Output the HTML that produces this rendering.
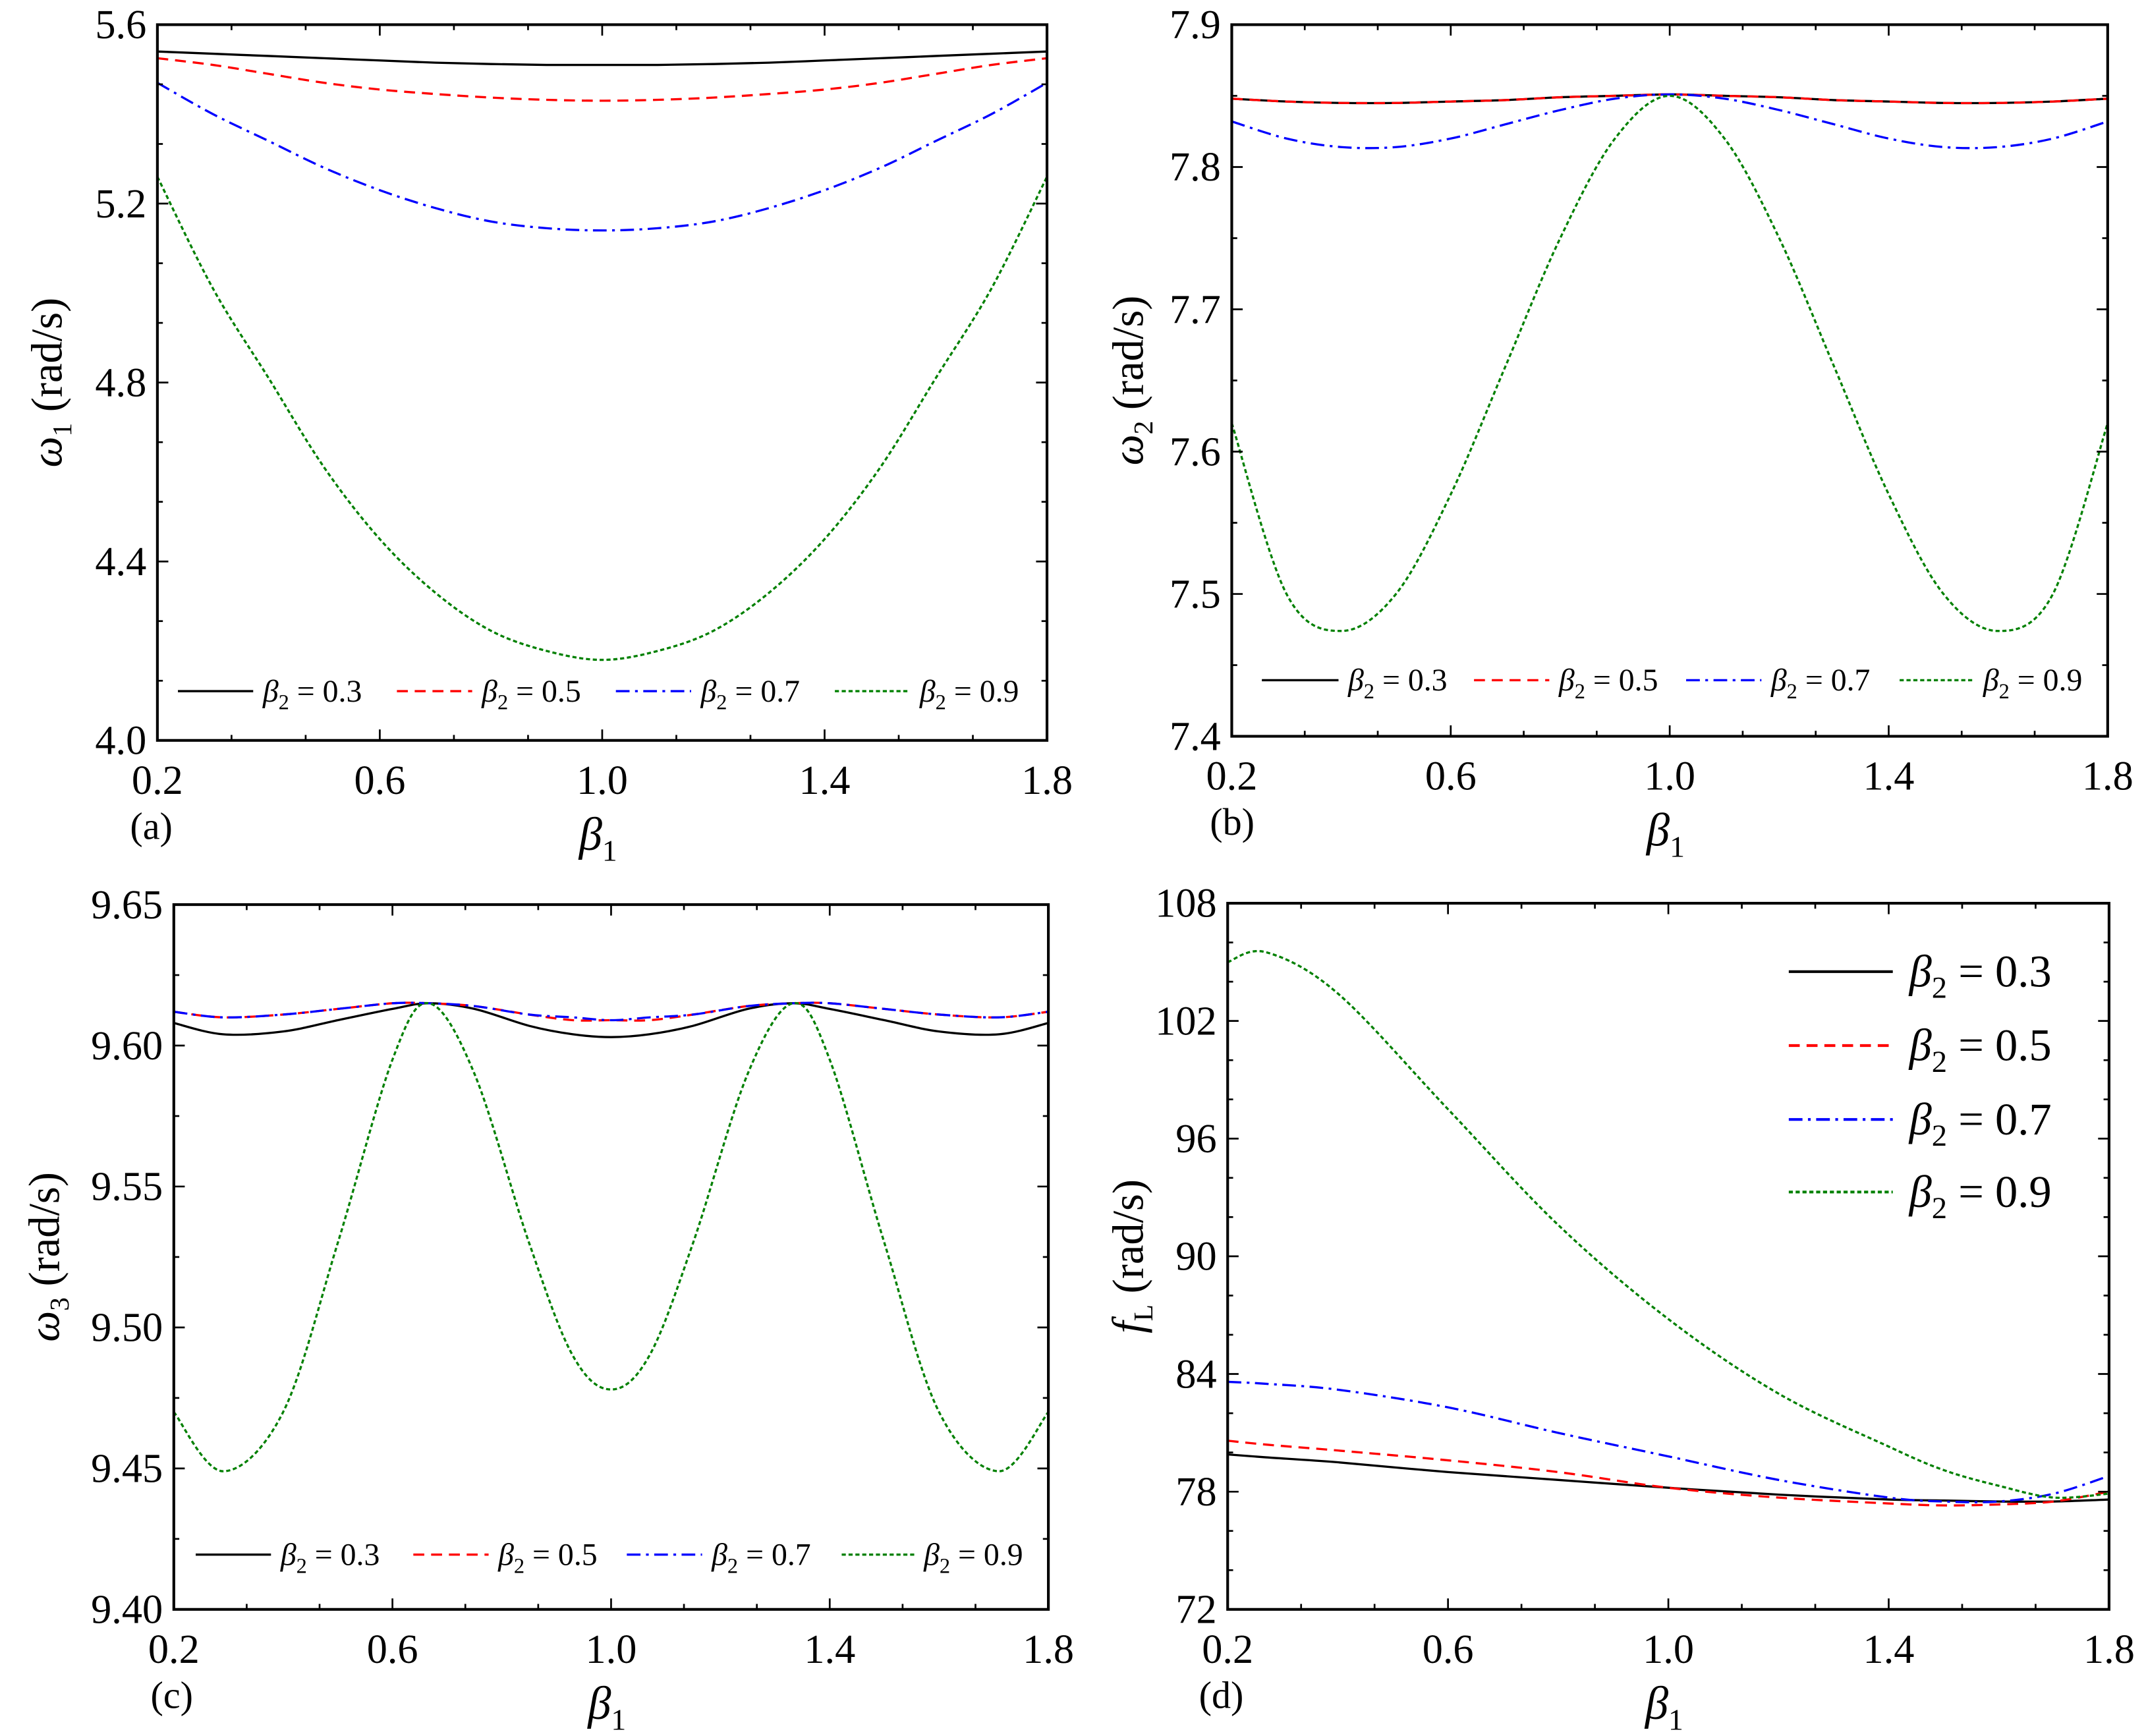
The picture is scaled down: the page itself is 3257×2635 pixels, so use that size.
<!DOCTYPE html>
<html><head><meta charset="utf-8"><style>
html,body{margin:0;padding:0;background:#fff}
svg{display:block}
text{font-family:"Liberation Serif","Times New Roman",serif;fill:#000}
</style></head><body>
<svg id="fig" width="3257" height="2635" viewBox="0 0 1568 1268.5" font-family="Liberation Serif, serif" xmlns="http://www.w3.org/2000/svg"></svg>
<script>
// Panel (a) data
const aX = [0.2,0.3,0.4,0.5,0.6,0.7,0.8,0.9,1.0,1.1,1.2,1.3,1.4,1.5,1.6,1.7,1.8];
const aS03 = [5.54,5.535,5.53,5.525,5.52,5.515,5.512,5.51,5.51,5.51,5.512,5.515,5.52,5.525,5.53,5.535,5.54];
const aS05 = [5.525,5.51,5.49,5.47,5.455,5.445,5.437,5.432,5.43,5.432,5.437,5.445,5.455,5.47,5.49,5.51,5.525];
const aS07 = [5.47,5.40,5.34,5.28,5.23,5.19,5.16,5.145,5.14,5.145,5.16,5.19,5.23,5.28,5.34,5.40,5.47];
const aS09 = [5.26,5.01,4.81,4.61,4.45,4.33,4.245,4.20,4.18,4.20,4.245,4.33,4.45,4.61,4.81,5.01,5.26];
// Panel (b) data
const bX = [0.2,0.3,0.4,0.5,0.6,0.7,0.8,0.9,1.0,1.1,1.2,1.3,1.4,1.5,1.6,1.7,1.8];
const bS03 = [7.848,7.846,7.845,7.845,7.846,7.847,7.849,7.850,7.851,7.850,7.849,7.847,7.846,7.845,7.845,7.846,7.848];
const bS05 = [7.848,7.846,7.845,7.845,7.846,7.847,7.849,7.850,7.851,7.850,7.849,7.847,7.846,7.845,7.845,7.846,7.848];
const bS07 = [7.832,7.820,7.814,7.814,7.820,7.830,7.840,7.848,7.851,7.848,7.840,7.830,7.820,7.814,7.814,7.820,7.832];
const bS09 = [7.62,7.50,7.474,7.50,7.57,7.66,7.75,7.82,7.85,7.82,7.75,7.66,7.57,7.50,7.474,7.50,7.62];
// Panel (c) data
const cX = [0.2,0.29,0.4,0.5,0.6,0.667,0.75,0.85,0.93,1.0,1.07,1.15,1.25,1.333,1.4,1.5,1.6,1.71,1.8];
const cS03 = [9.608,9.604,9.605,9.609,9.613,9.615,9.613,9.607,9.604,9.603,9.604,9.607,9.613,9.615,9.613,9.609,9.605,9.604,9.608];
const cS05 = [9.612,9.610,9.611,9.613,9.615,9.615,9.614,9.611,9.609,9.609,9.609,9.611,9.614,9.615,9.615,9.613,9.611,9.610,9.612];
const cS07 = [9.612,9.610,9.611,9.613,9.615,9.615,9.614,9.611,9.610,9.609,9.610,9.611,9.614,9.615,9.615,9.613,9.611,9.610,9.612];
const cS09 = [9.47,9.449,9.47,9.53,9.595,9.615,9.59,9.53,9.49,9.478,9.49,9.53,9.59,9.615,9.595,9.53,9.47,9.449,9.47];
// Panel (d) data
const dX = [0.2,0.27,0.4,0.6,0.8,1.0,1.2,1.4,1.5,1.6,1.7,1.8];
const dS03 = [79.9,79.75,79.5,79.0,78.6,78.2,77.85,77.6,77.55,77.5,77.5,77.6];
const dS05 = [80.6,80.4,80.1,79.6,79.0,78.2,77.7,77.4,77.3,77.35,77.5,78.0];
const dS07 = [83.6,83.5,83.2,82.3,81.0,79.8,78.6,77.7,77.5,77.5,77.9,78.8];
const dS09 = [105.0,105.5,103.4,97.5,91.6,86.8,83.0,80.3,79.1,78.3,77.7,77.9];

const legendLabels = ["0.3","0.5","0.7","0.9"];
const xTicks = [0.2,0.6,1.0,1.4,1.8];
const xTickLabels = ["0.2","0.6","1.0","1.4","1.8"];

const NS="http://www.w3.org/2000/svg";
const svg=document.getElementById('fig');
function el(tag,attrs,parent){const e=document.createElementNS(NS,tag);for(const k in attrs)e.setAttribute(k,attrs[k]);(parent||svg).appendChild(e);return e;}
const styles=[
 {stroke:"#000",dash:""},
 {stroke:"#ff0000",dash:"8,5"},
 {stroke:"#0000ff",dash:"10,4,2,4"},
 {stroke:"#008000",dash:"3,2"}];

function smoothPath(pts){
  let d="M"+pts[0][0].toFixed(2)+","+pts[0][1].toFixed(2);
  for(let i=0;i<pts.length-1;i++){
    const p0=pts[i-1]||pts[i],p1=pts[i],p2=pts[i+1],p3=pts[i+2]||p2;
    const c1=[p1[0]+(p2[0]-p0[0])/6,p1[1]+(p2[1]-p0[1])/6];
    const c2=[p2[0]-(p3[0]-p1[0])/6,p2[1]-(p3[1]-p1[1])/6];
    d+=" C"+c1[0].toFixed(2)+","+c1[1].toFixed(2)+" "+c2[0].toFixed(2)+","+c2[1].toFixed(2)+" "+p2[0].toFixed(2)+","+p2[1].toFixed(2);
  }
  return d;
}

function panel(cfg){
  const g=el('g',{});
  
  
  const {x0,x1,yTop,yBot,ymin,ymax}=cfg;
  const sx=v=>x0+(v-0.2)/1.6*(x1-x0);
  const sy=v=>yBot-(v-ymin)/(ymax-ymin)*(yBot-yTop);
  const cid='clip'+cfg.id;
  const cp=el('clipPath',{id:cid},g);
  el('rect',{x:x0,y:yTop,width:x1-x0,height:yBot-yTop},cp);
  cfg.series.forEach((s,i)=>{
    const pts=cfg.xs.map((x,j)=>[sx(x),sy(s[j])]);
    const p=el('path',{d:smoothPath(pts),fill:"none",stroke:styles[i].stroke,"stroke-width":1.6,"stroke-dasharray":styles[i].dash,"clip-path":"url(#"+cid+")"},g);
    
    
  });
  const ax=el('g',{stroke:"#000","stroke-width":1.3},g);
  
  
  const xstep=0.4, xminor=3;
  for(let k=0;k<=4*xminor;k++){
    const v=0.2+k*xstep/xminor, X=sx(v), L=(k%xminor===0)?8:4;
    el('line',{x1:X,y1:yBot,x2:X,y2:yBot-L},ax);
    el('line',{x1:X,y1:yTop,x2:X,y2:yTop+L},ax);
  }
  const nMaj=cfg.yTicks.length-1;
  for(let k=0;k<=nMaj*cfg.yMinor;k++){
    const v=ymin+k*(ymax-ymin)/(nMaj*cfg.yMinor), Y=sy(v), L=(k%cfg.yMinor===0)?8:4;
    el('line',{x1:x0,y1:Y,x2:x0+L,y2:Y},ax);
    el('line',{x1:x1,y1:Y,x2:x1-L,y2:Y},ax);
  }
  const box=el('rect',{x:x0,y:yTop,width:x1-x0,height:yBot-yTop,fill:"none",stroke:"#000","stroke-width":2},g);
  
  
  xTicks.forEach((v,i)=>{
    const t=el('text',{x:sx(v),y:yBot+39,"font-size":30,"text-anchor":"middle"},g);
    t.textContent=xTickLabels[i];
    
    
  });
  cfg.yTicks.forEach((v,i)=>{
    const t=el('text',{x:x0-8,y:sy(v)+10,"font-size":30,"text-anchor":"end"},g);
    t.textContent=cfg.yTickLabels[i];
    
    
  });
  const pl=el('text',{x:cfg.letterX,y:yBot+72,"font-size":28},g);
  pl.textContent=cfg.letter;
  
  
  const xt=el('text',{x:(x0+x1)/2-3,y:yBot+80,"font-size":34,"font-style":"italic","text-anchor":"middle"},g);
  xt.innerHTML='β<tspan font-style="normal" font-size="22" dy="8">1</tspan>';
  
  
  const yc=(yTop+yBot)/2, yx=cfg.yTitleX;
  const yt=el('text',{x:yx,y:yc,"font-size":32,"text-anchor":"middle",transform:"rotate(-90 "+yx+" "+yc+")"},g);
  yt.innerHTML=cfg.yTitle;
  
  
  const lg=el('g',{},g);
  
  
  legendLabels.forEach((lab,i)=>{
    const e=cfg.legend[i];
    const ln=el('line',{x1:e[0],y1:e[2],x2:e[1],y2:e[2],stroke:styles[i].stroke,"stroke-width":cfg.legendBig?2:1.6,"stroke-dasharray":styles[i].dash},lg);
    
    
    const fs=cfg.legendBig?33:23;
    const t=el('text',{x:e[1]+(cfg.legendBig?12:7),y:e[2]+fs*0.33,"font-size":fs},lg);
    t.innerHTML='<tspan font-style="italic">β</tspan><tspan font-size="'+(fs*0.68)+'" dy="'+(fs*0.25)+'">2</tspan><tspan dy="'+(-fs*0.25)+'"> = '+lab+'</tspan>';
    
    
  });
}

panel({id:'a',name:'panel-a',x0:115,x1:765,yTop:18,yBot:541,ymin:4.0,ymax:5.6,yMinor:3,
  yTicks:[4.0,4.4,4.8,5.2,5.6],yTickLabels:["4.0","4.4","4.8","5.2","5.6"],
  xs:aX,series:[aS03,aS05,aS07,aS09],letter:"(a)",letterX:95,yTitleX:45,
  yTitle:'<tspan font-style="italic">ω</tspan><tspan font-size="20" dy="7">1</tspan><tspan dy="-7"> (rad/s)</tspan>',
  legend:[[130,185,505],[290,345,505],[450,505,505],[610,665,505]]});
panel({id:'b',name:'panel-b',x0:900,x1:1540,yTop:18,yBot:538,ymin:7.4,ymax:7.9,yMinor:2,
  yTicks:[7.4,7.5,7.6,7.7,7.8,7.9],yTickLabels:["7.4","7.5","7.6","7.7","7.8","7.9"],
  xs:bX,series:[bS03,bS05,bS07,bS09],letter:"(b)",letterX:884,yTitleX:835,
  yTitle:'<tspan font-style="italic">ω</tspan><tspan font-size="20" dy="7">2</tspan><tspan dy="-7"> (rad/s)</tspan>',
  legend:[[922,978,497],[1077,1132,497],[1232,1287,497],[1388,1442,497]]});
panel({id:'c',name:'panel-c',x0:127,x1:766,yTop:661,yBot:1176,ymin:9.40,ymax:9.65,yMinor:2,
  yTicks:[9.40,9.45,9.50,9.55,9.60,9.65],yTickLabels:["9.40","9.45","9.50","9.55","9.60","9.65"],
  xs:cX,series:[cS03,cS05,cS07,cS09],letter:"(c)",letterX:110,yTitleX:43,
  yTitle:'<tspan font-style="italic">ω</tspan><tspan font-size="20" dy="7">3</tspan><tspan dy="-7"> (rad/s)</tspan>',
  legend:[[143,198,1136],[302,357,1136],[458,513,1136],[615,668,1136]]});
panel({id:'d',name:'panel-d',x0:897,x1:1541,yTop:660,yBot:1176,ymin:72,ymax:108,yMinor:3,
  yTicks:[72,78,84,90,96,102,108],yTickLabels:["72","78","84","90","96","102","108"],
  xs:dX,series:[dS03,dS05,dS07,dS09],letter:"(d)",letterX:876,yTitleX:835,legendBig:true,
  yTitle:'<tspan font-style="italic">f</tspan><tspan font-size="20" dy="7">L</tspan><tspan dy="-7"> (rad/s)</tspan>',
  legend:[[1307,1383,710],[1307,1383,764],[1307,1383,818],[1307,1383,871]]});
</script>
</body></html>
